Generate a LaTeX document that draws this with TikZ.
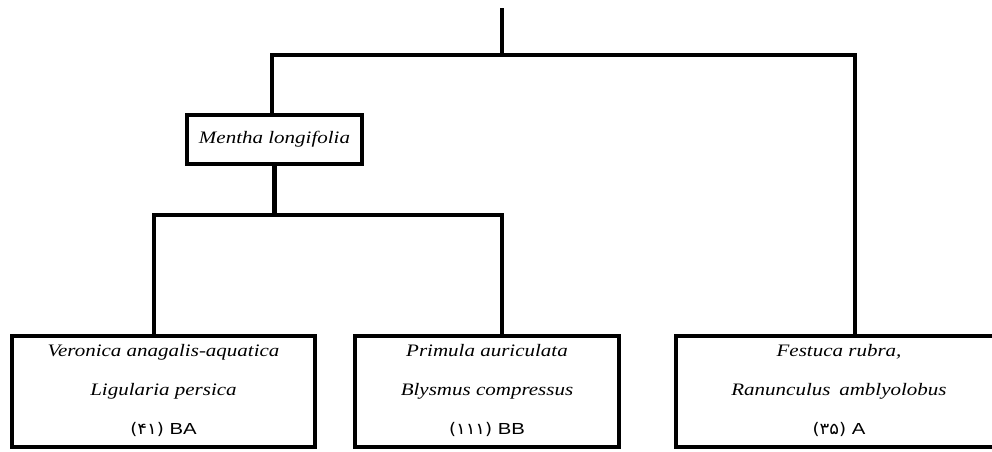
\documentclass[tikz,border=0pt]{standalone}
\usepackage{fontspec}
\setmainfont{Liberation Serif}[FakeStretch=1.2]
\newfontfamily\lsans{Liberation Sans}[FakeStretch=1.27]
\newfontfamily\pdigits{DejaVu Sans}[FakeStretch=1.13]
\begin{document}
\begin{tikzpicture}[x=1pt,y=-1pt,
  line width=4.5pt,
  boxnode/.style={draw, line width=4.5pt, rectangle, inner sep=0pt, fill=white},
  spname/.style={font=\fontsize{17.5}{20}\selectfont\itshape, anchor=base, inner sep=0pt},
  codetxt/.style={font=\fontsize{16}{18}\selectfont\lsans, anchor=base, inner sep=0pt},
  conn/.style={line width=4.5pt, line join=miter}]
\useasboundingbox (0,0) rectangle (992,451);

% nodes
\node[boxnode, minimum width=175pt, minimum height=49pt, font=\fontsize{17.5}{20}\selectfont\itshape] (mentha) at (274.5,139.5) {Mentha longifolia};
\node[boxnode, minimum width=303pt, minimum height=111pt] (b1) at (163.5,391.5) {};
\node[boxnode, minimum width=264pt, minimum height=111pt] (b2) at (487,391.5) {};
\node[boxnode, minimum width=326pt, minimum height=111pt] (b3) at (839,391.5) {};

% labels in box 1
\node[spname] (b1a) at ([yshift=-23pt]b1.north) {Veronica anagalis-aquatica};
\node[spname] (b1b) at ([yshift=-62pt]b1.north) {Ligularia persica};
\node[codetxt] (b1c) at ([yshift=-101pt]b1.north) {{\pdigits(۴۱)} BA};
% labels in box 2
\node[spname] (b2a) at ([yshift=-23pt]b2.north) {Primula auriculata};
\node[spname] (b2b) at ([yshift=-62pt]b2.north) {Blysmus compressus};
\node[codetxt] (b2c) at ([yshift=-101pt]b2.north) {{\pdigits(۱۱۱)} BB};
% labels in box 3
\node[spname] (b3a) at ([yshift=-23pt]b3.north) {Festuca rubra,};
\node[spname] (b3b) at ([yshift=-62pt]b3.north) {Ranunculus\hspace{0.5em}amblyolobus};
\node[codetxt] (b3c) at ([yshift=-101pt]b3.north) {{\pdigits(۳۵)} A};

% junction coordinates
\coordinate (top) at (502,8);
\coordinate (topj) at (502,55);
\coordinate (l1) at (272,55);
\coordinate (r1) at (855,55);
\coordinate (midj) at (274.5,215);
\coordinate (l2) at (154,215);
\coordinate (r2) at (502,215);

% connectors
\draw[conn] (top) -- (topj);
\draw[conn] (l1 |- mentha.north) -- (l1) -- (r1) -- (r1 |- b3.north);
\draw[conn] (mentha.south) -- (midj);
\draw[conn] (l2 |- b1.north) -- (l2) -- (r2) -- (r2 |- b2.north);
\end{tikzpicture}
\end{document}
